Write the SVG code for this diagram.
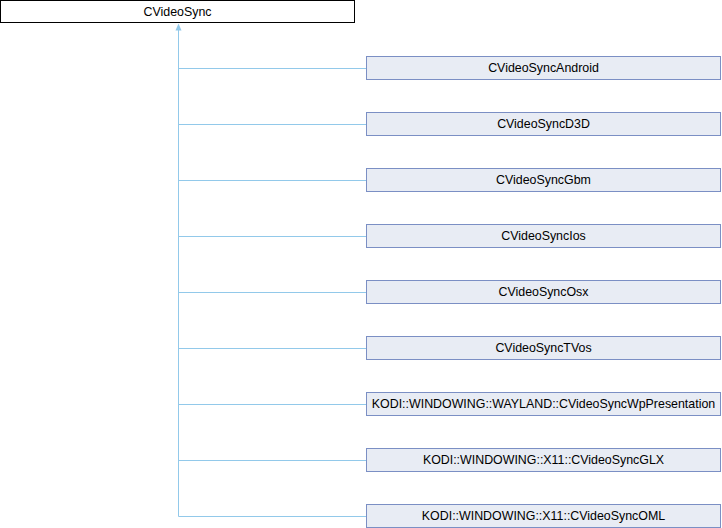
<svg xmlns="http://www.w3.org/2000/svg" width="722" height="528" viewBox="0 0 722 528">
<defs>
<style>
.base rect{fill:#ffffff;stroke:#000000;stroke-width:1}
.node rect{fill:#e8ecf4;stroke:#7b8fc4;stroke-width:1}
text{font-family:"Liberation Sans",Arial,sans-serif;font-size:12.4px;fill:#000000;text-anchor:middle}
.edges path{fill:none;stroke:#92c9ea;stroke-width:1}
.arrow{fill:#92c9ea;stroke:none}
</style>
</defs>
<rect width="722" height="528" fill="#ffffff"/>
<g class="edges" id="edges">
<path d="M178.5 30 V516.5"/>
<path d="M178.5 68.5 H366"/>
<path d="M178.5 124.5 H366"/>
<path d="M178.5 180.5 H366"/>
<path d="M178.5 236.5 H366"/>
<path d="M178.5 292.5 H366"/>
<path d="M178.5 348.5 H366"/>
<path d="M178.5 404.5 H366"/>
<path d="M178.5 460.5 H366"/>
<path d="M178.5 516.5 H366"/>
<polygon class="arrow" points="178.5,23.5 175.5,30.5 181.5,30.5"/>
</g>
<g class="base" id="CVideoSync"><rect x="0.5" y="0.5" width="354" height="22"/><text x="177.5" y="15.5">CVideoSync</text></g>
<g class="node" id="CVideoSyncAndroid"><rect x="366.5" y="56.5" width="354" height="23"/><text x="543.5" y="71.8">CVideoSyncAndroid</text></g>
<g class="node" id="CVideoSyncD3D"><rect x="366.5" y="112.5" width="354" height="23"/><text x="543.5" y="127.8">CVideoSyncD3D</text></g>
<g class="node" id="CVideoSyncGbm"><rect x="366.5" y="168.5" width="354" height="23"/><text x="543.5" y="183.8">CVideoSyncGbm</text></g>
<g class="node" id="CVideoSyncIos"><rect x="366.5" y="224.5" width="354" height="23"/><text x="543.5" y="239.8">CVideoSyncIos</text></g>
<g class="node" id="CVideoSyncOsx"><rect x="366.5" y="280.5" width="354" height="23"/><text x="543.5" y="295.8">CVideoSyncOsx</text></g>
<g class="node" id="CVideoSyncTVos"><rect x="366.5" y="336.5" width="354" height="23"/><text x="543.5" y="351.8">CVideoSyncTVos</text></g>
<g class="node" id="CVideoSyncWpPresentation"><rect x="366.5" y="392.5" width="354" height="23"/><text x="543.5" y="407.8">KODI::WINDOWING::WAYLAND::CVideoSyncWpPresentation</text></g>
<g class="node" id="CVideoSyncGLX"><rect x="366.5" y="448.5" width="354" height="23"/><text x="543.5" y="463.8">KODI::WINDOWING::X11::CVideoSyncGLX</text></g>
<g class="node" id="CVideoSyncOML"><rect x="366.5" y="504.5" width="354" height="23"/><text x="543.5" y="519.8">KODI::WINDOWING::X11::CVideoSyncOML</text></g>
</svg>
